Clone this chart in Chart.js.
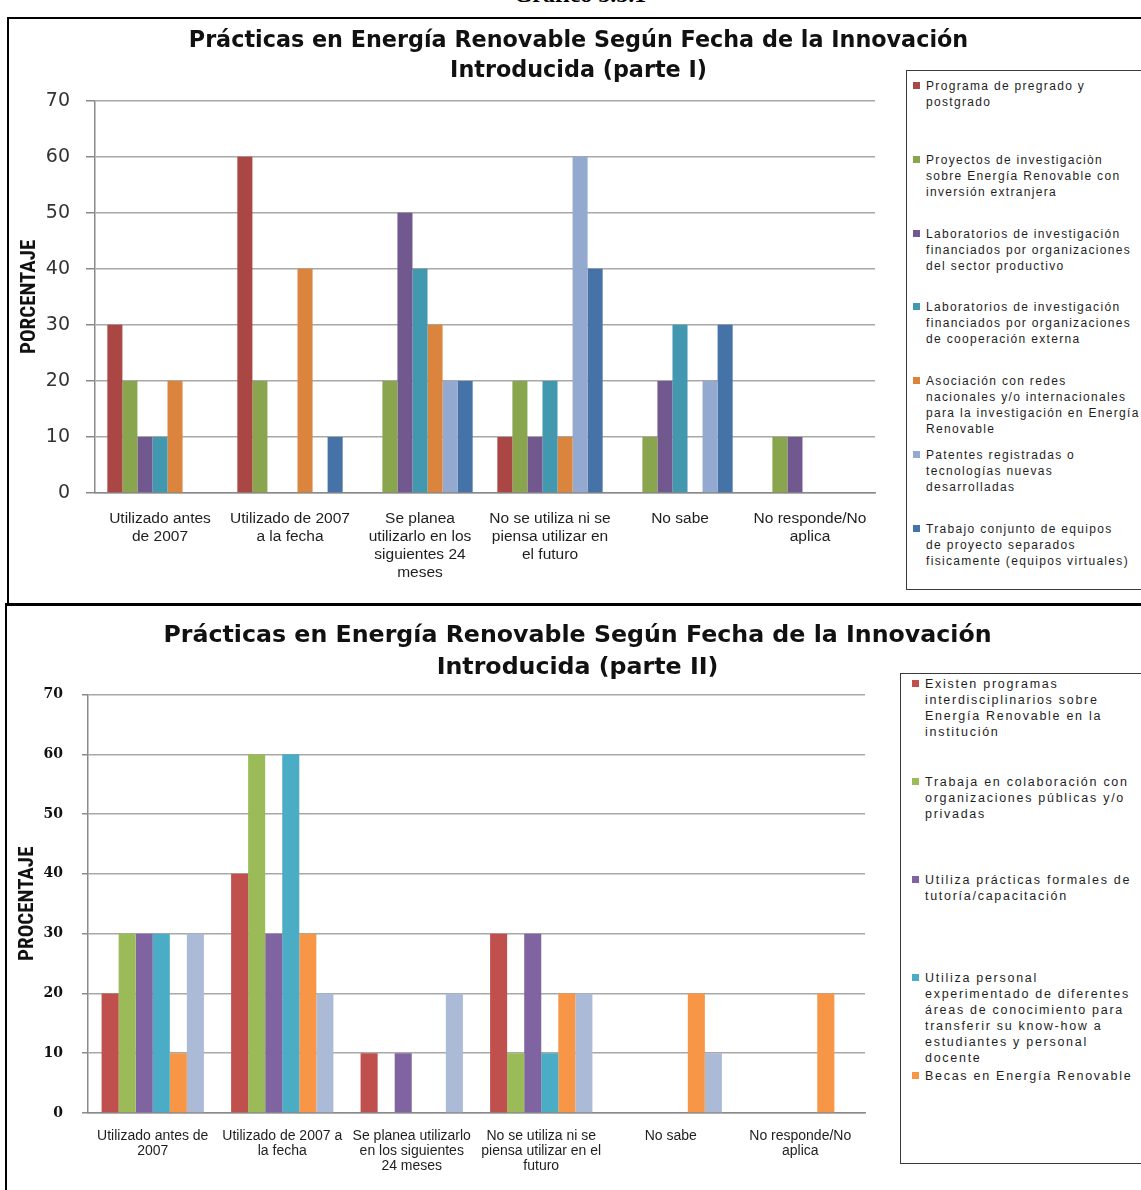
<!DOCTYPE html>
<html>
<head>
<meta charset="utf-8">
<title>Prácticas en Energía Renovable</title>
<script src="https://cdn.jsdelivr.net/npm/chart.js@4.4.0/dist/chart.umd.min.js"></script>
<style>
  html, body { margin: 0; padding: 0; background: #fff; }
  body { position: relative; width: 1141px; height: 1190px; overflow: hidden; }
  .caption { position: absolute; left: 0; width: 1160px; top: -18px; text-align: center;
             font: bold 24px 'Liberation Serif', 'DejaVu Serif', serif; line-height: 24px; color: #000; }
  .frame { position: absolute; border: 2px solid #000; box-sizing: border-box; }
  #frame1 { left: 7px; top: 17px; width: 1160px; height: 589px; }
  #frame2 { left: 5px; top: 603px; width: 1160px; height: 610px; }
  canvas { position: absolute; left: 0; }
  #c1 { top: 0; }
  #c2 { top: 605px; }
  .legend { position: absolute; border: 1px solid #3a3a3a; background: #fff; box-sizing: border-box;
            font-family: 'Liberation Sans', Arial, sans-serif; line-height: 16px; color: #1e1e1e; }
  #legend1 { left: 906px; top: 70px; width: 245px; height: 520px; font-size: 12px; letter-spacing: 1.32px; }
  #legend2 { left: 900px; top: 673px; width: 250px; height: 491px; font-size: 12.5px; letter-spacing: 1.72px; }
  .item { position: absolute; white-space: nowrap; }
  .swatch { position: absolute; width: 7px; height: 7px; top: 4px; }
</style>
</head>
<body>
<div class="caption">Gráfico 5.5.1</div>
<div class="frame" id="frame1"></div>
<div class="frame" id="frame2"></div>
<canvas id="c1" width="1141" height="600"></canvas>
<canvas id="c2" width="1141" height="585"></canvas>
<div class="legend" id="legend1"></div>
<div class="legend" id="legend2"></div>
<script>
// ---------- Parte I ----------
const categories1 = [
  ['Utilizado antes', 'de 2007'],
  ['Utilizado de 2007', 'a la fecha'],
  ['Se planea', 'utilizarlo en los', 'siguientes 24', 'meses'],
  ['No se utiliza ni se', 'piensa utilizar en', 'el futuro'],
  ['No sabe'],
  ['No responde/No', 'aplica']
];
const legend1 = [
  ['Programa de pregrado y', 'postgrado'],
  ['Proyectos de investigaciòn', 'sobre Energía Renovable con', 'inversión extranjera'],
  ['Laboratorios de investigación', 'financiados por organizaciones', 'del sector productivo'],
  ['Laboratorios de investigación', 'financiados por organizaciones', 'de cooperación externa'],
  ['Asociación con redes', 'nacionales y/o internacionales', 'para la investigación en Energía', 'Renovable'],
  ['Patentes registradas o', 'tecnologías nuevas', 'desarrolladas'],
  ['Trabajo conjunto de equipos', 'de proyecto separados', 'fisicamente (equipos virtuales)']
];
const programaPregrado    = [30, 60,  0, 10,  0,  0];
const proyectosExtranjera = [20, 20, 20, 20, 10, 10];
const labSectorProductivo = [10,  0, 50, 10, 20, 10];
const labCooperacion      = [10,  0, 40, 20, 30,  0];
const asociacionRedes     = [20, 40, 30, 10,  0,  0];
const patentes            = [ 0,  0, 20, 60, 20,  0];
const equiposVirtuales    = [ 0, 10, 20, 40, 30,  0];
const colors1 = ['#AA4643', '#89A54E', '#71588F', '#4198AF', '#DB843D', '#93A9CF', '#4572A7'];

// ---------- Parte II ----------
const categories2 = [
  ['Utilizado antes de', '2007'],
  ['Utilizado de 2007 a', 'la fecha'],
  ['Se planea utilizarlo', 'en los siguientes', '24 meses'],
  ['No se utiliza ni se', 'piensa utilizar en el', 'futuro'],
  ['No sabe'],
  ['No responde/No', 'aplica']
];
const legend2 = [
  ['Existen programas', 'interdisciplinarios sobre', 'Energía Renovable en la', 'institución'],
  ['Trabaja en colaboración con', 'organizaciones públicas y/o', 'privadas'],
  ['Utiliza prácticas formales de', 'tutoría/capacitación'],
  ['Utiliza personal', 'experimentado de diferentes', 'áreas de conocimiento para', 'transferir su know-how a', 'estudiantes y personal', 'docente'],
  ['Becas en Energía Renovable'],
  []
];
const programasInterdisciplinarios = [20, 40, 10, 30,  0,  0];
const colaboracionOrganizaciones   = [30, 60,  0, 10,  0,  0];
const tutoriaCapacitacion          = [30, 30, 10, 30,  0,  0];
const personalExperimentado        = [30, 60,  0, 10,  0,  0];
const becasEnergia                 = [10, 30,  0, 20, 20, 20];
const serieSinLeyenda              = [30, 20, 20, 20, 10,  0];
const colors2 = ['#C0504D', '#9BBB59', '#8064A2', '#4BACC6', '#F79646', '#AABAD7'];

const yTicks = [0, 10, 20, 30, 40, 50, 60, 70];

function makeDatasets(lines, values, colors) {
  return values.map((v, i) => ({
    label: lines[i].join(' '),
    data: v,
    backgroundColor: colors[i],
    borderWidth: 0
  }));
}

function buildLegend(el, lines, colors, left, firstTop, step) {
  lines.forEach((l, i) => {
    if (!l.length) return;
    const it = document.createElement('div');
    it.className = 'item';
    it.style.left = left + 'px';
    it.style.top = (firstTop + i * step) + 'px';
    it.innerHTML = l.join('<br>');
    const sw = document.createElement('div');
    sw.className = 'swatch';
    sw.style.left = '-13px';
    sw.style.background = colors[i];
    it.appendChild(sw);
    el.appendChild(it);
  });
}

function makeChart(id, cfg) {
  return new Chart(document.getElementById(id), {
    type: 'bar',
    data: { labels: cfg.labels, datasets: cfg.datasets },
    options: {
      responsive: false,
      animation: false,
      devicePixelRatio: 1,
      layout: { padding: cfg.padding },
      datasets: { bar: { categoryPercentage: cfg.catPct, barPercentage: 1.0 } },
      plugins: {
        legend: { display: false },
        tooltip: { enabled: false },
        title: {
          display: true,
          text: cfg.title,
          color: '#111',
          font: { family: "'DejaVu Sans', sans-serif", size: cfg.titleSize, weight: 'bold', lineHeight: 1.36 },
          padding: cfg.titlePad
        }
      },
      scales: {
        x: {
          grid: { display: false, drawTicks: false },
          border: { display: true, color: '#8a8a8a', width: 1.5 },
          ticks: {
            autoSkip: false, maxRotation: 0, minRotation: 0,
            color: '#1e1e1e', padding: cfg.xPad,
            font: cfg.xFont
          },
          afterFit: s => { s.height = cfg.xHeight; }
        },
        y: {
          min: 0, max: 70,
          afterBuildTicks: s => { s.ticks = yTicks.map(v => ({ value: v })); },
          grid: { color: '#a8a8a8', lineWidth: 1.5, tickLength: cfg.tickLen, tickColor: '#8a8a8a' },
          border: { display: true, color: '#8a8a8a', width: 1.5 },
          ticks: { color: cfg.yColor, padding: cfg.yPad, font: cfg.yFont },
          title: {
            display: true, text: cfg.yTitle, color: '#111',
            font: { family: "'Liberation Sans Narrow', 'Roboto Condensed', Roboto, sans-serif", size: 21, weight: 'bold', lineHeight: 1.15 },
            padding: { top: 2, bottom: 0 }
          },
          afterFit: s => { s.width = cfg.yWidth; }
        },
        // empty strip on the right, reserved for the HTML legend
        legendSpace: {
          type: 'linear', position: 'right', display: true,
          grid: { display: false, drawTicks: false },
          border: { display: false },
          ticks: { display: false },
          afterFit: s => { s.width = cfg.rightSpace; }
        }
      }
    }
  });
}

makeChart('c1', {
  labels: categories1,
  datasets: makeDatasets(legend1,
    [programaPregrado, proyectosExtranjera, labSectorProductivo, labCooperacion, asociacionRedes, patentes, equiposVirtuales],
    colors1),
  title: ['Prácticas en Energía Renovable Según Fecha de la Innovación', 'Introducida (parte I)'],
  titleSize: 22.3,
  titlePad: { top: 26, bottom: 14 },
  padding: { left: 16, right: 0, top: 0, bottom: 7 },
  rightSpace: 266,
  catPct: 0.81,
  xPad: 17, xHeight: 100,
  xFont: { family: "'Liberation Sans', Arial, sans-serif", size: 15.5, lineHeight: 1.16 },
  yWidth: 79, tickLen: 9, yPad: 16, yColor: '#333',
  yFont: { family: "'DejaVu Sans', sans-serif", size: 19 },
  yTitle: 'PORCENTAJE'
});

makeChart('c2', {
  labels: categories2,
  datasets: makeDatasets(legend2,
    [programasInterdisciplinarios, colaboracionOrganizaciones, tutoriaCapacitacion, personalExperimentado, becasEnergia, serieSinLeyenda],
    colors2),
  title: ['Prácticas en Energía Renovable Según Fecha de la Innovación', 'Introducida (parte II)'],
  titleSize: 23.7,
  titlePad: { top: 15, bottom: 10 },
  padding: { left: 14, right: 0, top: 0, bottom: 7 },
  rightSpace: 276,
  catPct: 0.79,
  xPad: 16, xHeight: 70,
  xFont: { family: "'Liberation Sans', Arial, sans-serif", size: 14, lineHeight: 1.07 },
  yWidth: 74, tickLen: 6, yPad: 19, yColor: '#111',
  yFont: { family: "'DejaVu Serif', serif", size: 14, weight: 'bold' },
  yTitle: 'PROCENTAJE'
});

buildLegend(document.getElementById('legend1'), legend1, colors1, 19, 7, 73.8);
buildLegend(document.getElementById('legend2'), legend2, colors2, 24, 2, 98);
</script>
</body>
</html>
